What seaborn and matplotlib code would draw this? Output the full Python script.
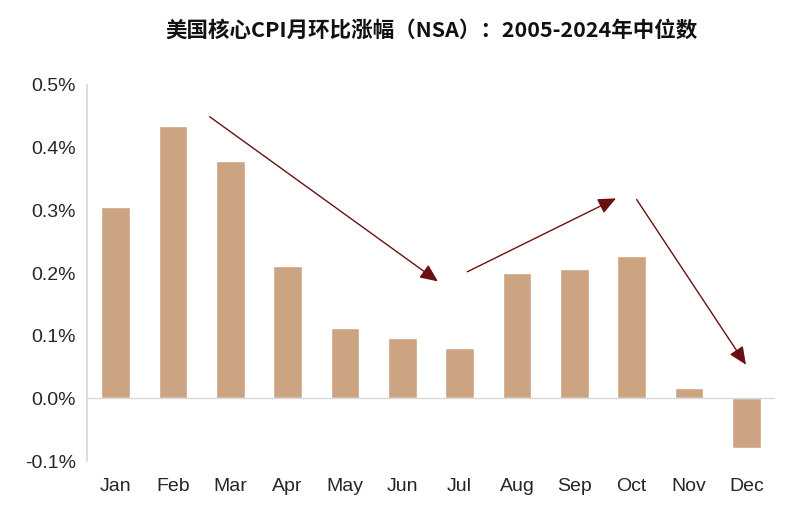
import matplotlib
matplotlib.use("Agg")
import matplotlib.pyplot as plt
import seaborn as sns
import pandas as pd

months = ["Jan","Feb","Mar","Apr","May","Jun","Jul","Aug","Sep","Oct","Nov","Dec"]
values = [0.305,0.435,0.379,0.211,0.113,0.097,0.081,0.200,0.206,0.227,0.016,-0.080]
yticks = [-0.1,0.0,0.1,0.2,0.3,0.4,0.5]
arrows = [((1.6,0.452),(5.66,0.184)),((6.09,0.200),(8.77,0.321)),((9.06,0.321),(11.02,0.050))]

sns.set_theme(style="white")
plt.rcParams['font.family'] = ['Noto Sans CJK SC','DejaVu Sans']
df = pd.DataFrame({"m":months,"v":values})
fig = plt.figure(figsize=(7.95,5.12), dpi=100)
ax = fig.add_axes([87/795, 1-461/512, 688/795, 376/512])
sns.barplot(data=df, x="m", y="v", color="#cda482", saturation=1, width=0.5, ax=ax)
ax.set_ylim(-0.1,0.5)
ax.set_xlim(-0.5,11.5)
ax.set_yticks(yticks)
ax.set_yticklabels([f"{t:.1f}%" for t in yticks], fontsize=14, family=['Liberation Sans'])
ax.set_xticklabels(months, fontsize=14, family=['Liberation Sans'])
ax.set_xlabel(""); ax.set_ylabel("")
ax.tick_params(axis='x', length=0, pad=12)
ax.tick_params(axis='y', length=0, pad=8)
for s in ["top","right","bottom"]:
    ax.spines[s].set_visible(False)
ax.spines["left"].set_color("#d9d9d9")
ax.axhline(0, color="#d9d9d9", lw=1)
for (x0,y0),(x1,y1) in arrows:
    ax.annotate("", xy=(x1,y1), xytext=(x0,y0),
                arrowprops=dict(arrowstyle="-|>,head_length=0.9,head_width=0.4", color="#6b1010", lw=1))
fig.text(432/795, 1-30/512, "美国核心CPI月环比涨幅（NSA）：2005-2024年中位数",
         ha="center", va="center", fontsize=15.5, fontweight="bold", color="#111111")
fig.savefig("out.png", dpi=100)
